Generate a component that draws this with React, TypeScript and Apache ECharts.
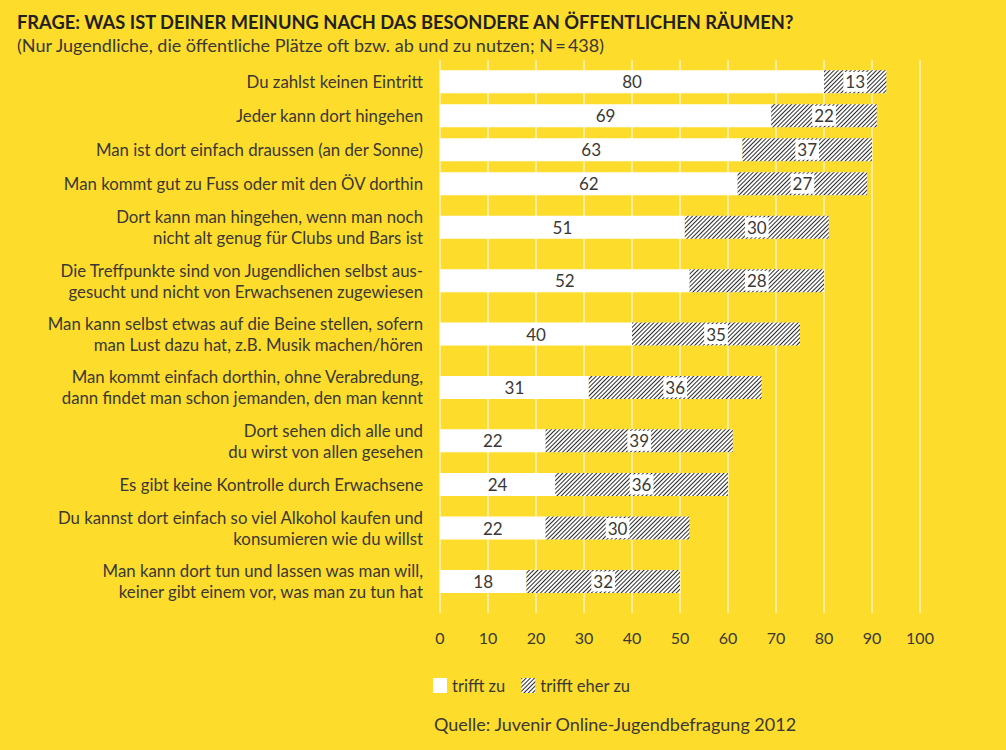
import React, { useEffect, useRef } from "react";
import * as echarts from "echarts";

// ---- data ----
const categories: string[] = [
  "Du zahlst keinen Eintritt",
  "Jeder kann dort hingehen",
  "Man ist dort einfach draussen (an der Sonne)",
  "Man kommt gut zu Fuss oder mit den ÖV dorthin",
  "Dort kann man hingehen, wenn man noch\nnicht alt genug für Clubs und Bars ist",
  "Die Treffpunkte sind von Jugendlichen selbst aus-\ngesucht und nicht von Erwachsenen zugewiesen",
  "Man kann selbst etwas auf die Beine stellen, sofern\nman Lust dazu hat, z.B. Musik machen/hören",
  "Man kommt einfach dorthin, ohne Verabredung,\ndann findet man schon jemanden, den man kennt",
  "Dort sehen dich alle und\ndu wirst von allen gesehen",
  "Es gibt keine Kontrolle durch Erwachsene",
  "Du kannst dort einfach so viel Alkohol kaufen und\nkonsumieren wie du willst",
  "Man kann dort tun und lassen was man will,\nkeiner gibt einem vor, was man zu tun hat",
];
const trifftZu: number[] = [80, 69, 63, 62, 51, 52, 40, 31, 22, 24, 22, 18];
// bar lengths as drawn in the source
const trifftEherZu: number[] = [13, 22, 27, 27, 30, 28, 35, 36, 39, 36, 30, 32];
// numbers as printed in the source (row 3 prints 37 on a bar that measures 27)
const trifftEherZuPrinted: number[] = [13, 22, 37, 27, 30, 28, 35, 36, 39, 36, 30, 32];
const xTicks: number[] = [0, 10, 20, 30, 40, 50, 60, 70, 80, 90, 100];
const seriesNames: string[] = ["trifft zu", "trifft eher zu"];

const TITLE = "FRAGE: WAS IST DEINER MEINUNG NACH DAS BESONDERE AN ÖFFENTLICHEN RÄUMEN?";
const SUBTITLE = "(Nur Jugendliche, die öffentliche Plätze oft bzw. ab und zu nutzen; N\u2009=\u2009438)";
const SOURCE = "Quelle: Juvenir Online-Jugendbefragung 2012";

// ---- layout helpers: rows with two-line labels get taller bands ----
const SINGLE_SLOTS = 7;
const DOUBLE_SLOTS = 11;
const PAD_SLOTS = 1;

type Slot = { id: string; label: string; row: number };
const slots: Slot[] = [];
const pushEmpty = () => slots.push({ id: "s" + slots.length, label: "", row: -1 });
for (let p = 0; p < PAD_SLOTS; p++) pushEmpty();
categories.forEach((c, r) => {
  const n = c.includes("\n") ? DOUBLE_SLOTS : SINGLE_SLOTS;
  const mid = Math.floor(n / 2);
  for (let k = 0; k < n; k++) {
    if (k === mid) slots.push({ id: "s" + slots.length, label: c, row: r });
    else pushEmpty();
  }
});
for (let p = 0; p < PAD_SLOTS; p++) pushEmpty();

const slotIds = slots.map((s) => s.id);
const labelById: Record<string, string> = {};
slots.forEach((s) => (labelById[s.id] = s.label));
const zuData = slots.map((s) => (s.row >= 0 ? trifftZu[s.row] : "-"));
const eherData = slots.map((s) =>
  s.row >= 0 ? { value: trifftEherZu[s.row], printed: trifftEherZuPrinted[s.row] } : "-"
);

const BG = "#FDDC2B";
const TEXT = "#3a3835";
const FONT = "Lato, 'Open Sans', sans-serif";

export default function App() {
  const ref = useRef<HTMLDivElement>(null);
  useEffect(() => {
    document.body.style.margin = "0";
    if (!ref.current) return;
    const chart = echarts.init(ref.current, undefined, { renderer: "svg" });
    const hatch = {
      symbol: "rect",
      symbolSize: 1,
      dashArrayX: [1, 0],
      dashArrayY: [1, 2],
      rotation: -Math.PI / 4,
      color: "#2a2a2a",
    };
    chart.setOption({
      animation: false,
      backgroundColor: BG,
      textStyle: { fontFamily: FONT },
      title: {
        text: TITLE,
        subtext: SUBTITLE,
        left: 17,
        top: 13,
        padding: 0,
        itemGap: 5,
        textStyle: { fontFamily: FONT, fontWeight: "bold", fontSize: 18.3, color: "#231f20" },
        subtextStyle: { fontFamily: FONT, fontSize: 18, color: TEXT },
      },
      legend: {
        data: seriesNames,
        left: 433,
        top: 677,
        padding: 0,
        icon: "rect",
        itemWidth: 14,
        itemHeight: 15,
        itemGap: 16,
        textStyle: { fontFamily: FONT, fontSize: 16.5, color: TEXT },
      },
      grid: { left: 440, width: 480, top: 60, height: 553, containLabel: false },
      xAxis: {
        type: "value",
        min: xTicks[0],
        max: xTicks[xTicks.length - 1],
        interval: xTicks[1] - xTicks[0],
        axisLine: { show: false },
        axisTick: { show: false },
        axisLabel: { margin: 16, fontSize: 16, color: TEXT, fontFamily: FONT },
        splitLine: { show: true, lineStyle: { color: "#FFF4C6", width: 1.5 } },
      },
      yAxis: {
        type: "category",
        inverse: true,
        data: slotIds,
        axisLine: { show: false },
        axisTick: { show: false },
        splitLine: { show: false },
        axisLabel: {
          interval: 0,
          margin: 17,
          fontSize: 16.8,
          lineHeight: 21,
          color: TEXT,
          fontFamily: FONT,
          formatter: (v: string) => labelById[v] || "",
        },
      },
      series: [
        {
          name: seriesNames[0],
          type: "bar",
          stack: "total",
          barWidth: 23,
          data: zuData,
          itemStyle: { color: "#ffffff" },
          label: {
            show: true,
            position: "inside",
            fontSize: 17,
            color: TEXT,
            fontFamily: FONT,
          },
        },
        {
          name: seriesNames[1],
          type: "bar",
          stack: "total",
          barWidth: 23,
          data: eherData,
          itemStyle: { color: "#ffffff", decal: hatch },
          label: {
            show: true,
            position: "inside",
            fontSize: 17,
            color: TEXT,
            fontFamily: FONT,
            backgroundColor: "#ffffff",
            padding: [2, 2, 1, 2],
            formatter: (p: any) => String(p.data.printed),
          },
        },
      ],
      graphic: [
        {
          type: "text",
          left: 434,
          top: 715,
          style: { text: SOURCE, fontSize: 18, fill: TEXT, fontFamily: FONT },
        },
      ],
    });
    return () => chart.dispose();
  }, []);
  return (
    <div
      ref={ref}
      style={{ position: "absolute", left: 0, top: 0, width: 1006, height: 750 }}
    />
  );
}
